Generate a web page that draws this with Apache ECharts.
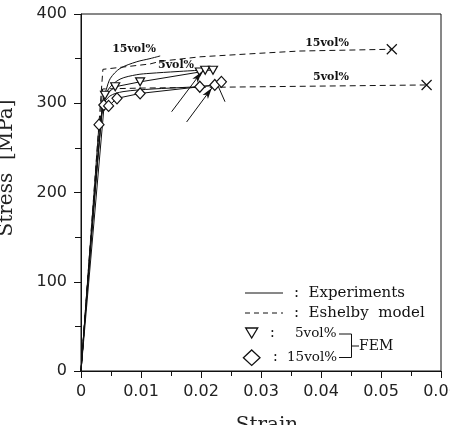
<!DOCTYPE html>
<html>
<head>
<meta charset="utf-8">
<script src="https://cdn.jsdelivr.net/npm/echarts@6/dist/echarts.min.js"></script>
<style>html,body{margin:0;padding:0;background:#fff;}#c{width:450px;height:425px;}</style>
</head>
<body>
<div id="c"></div>
<script>
// ---- data (strain, stress [MPa]) ----
const eshelby15 = [[0,0],[0.00365,338],[0.0115,344],[0.0132,347],[0.0198,352],[0.0298,356],[0.0364,358.5],[0.0518,360.5]];
const eshelby5  = [[0,0],[0.0036,316],[0.01,317],[0.03,318.5],[0.0576,320.5]];
const exp15  = [[0,0],[0.0036,300],[0.0042,315],[0.0049,328],[0.0065,339],[0.0093,346.5],[0.0115,350],[0.0132,353]];
const exp5a  = [[0,0],[0.0036,298],[0.0046,316],[0.0065,327],[0.0093,332],[0.0115,333.5],[0.016,335.5],[0.0198,337]];
const exp5b  = [[0,0],[0.0036,296],[0.0048,308],[0.007,313],[0.012,316],[0.018,318],[0.0225,320]];
const fem5   = [[0,0],[0.004,309],[0.0057,318.5],[0.00985,324],[0.0198,335],[0.0207,337],[0.022,337]];
const fem15  = [[0,0],[0.003,276],[0.0038,298],[0.0046,297],[0.006,305.5],[0.00985,311],[0.0198,318.5],[0.0223,320.5],[0.0234,324]];
const arrowLines = [[[0.0151,290.5],[0.0201,335]],[[0.0176,279],[0.0218,317]]];
const plainLines = [[[0.024,301.7],[0.0229,318.5]]];
const xTicks = [0,0.01,0.02,0.03,0.04,0.05,0.06];
const yTicks = [0,100,200,300,400];

const chart = echarts.init(document.getElementById('c'), null, {renderer:'canvas'});
const black = '#111';
function withMarkers(arr){
  return arr.map((p,i)=> i===0 ? {value:p, symbol:'none'} : {value:p});
}
const endX = 'path://M0,0L10,10M10,0L0,10';
const sol = {color:black, width:1, type:'solid'};
const dash = {color:black, width:1, type:[6,4]};
const markLineData = arrowLines.map(l=>[{coord:l[0], symbol:'none'},{coord:l[1], symbol:'arrow', symbolSize:[5,11]}])
  .concat(plainLines.map(l=>[{coord:l[0], symbol:'none'},{coord:l[1], symbol:'none'}]));
const serif = '"DejaVu Serif"';

const option = {
  animation:false,
  backgroundColor:'#fff',
  grid:{left:81, right:9, top:14, bottom:54, show:true, borderColor:black, borderWidth:1, outerBoundsMode:'none', containLabel:false},
  xAxis:{type:'value', min:xTicks[0], max:xTicks[xTicks.length-1], interval:0.01,
    axisLine:{lineStyle:{color:black}}, splitLine:{show:false},
    axisTick:{length:7, lineStyle:{color:black}},
    minorTick:{show:true, splitNumber:2, length:5, lineStyle:{color:black}},
    axisLabel:{margin:13, fontFamily:'DejaVu Sans', fontSize:16, color:'#222', hideOverlap:false,
      formatter:v=> v===0 ? '0' : v.toFixed(2)}},
  yAxis:{type:'value', min:yTicks[0], max:yTicks[yTicks.length-1], interval:100,
    axisLine:{lineStyle:{color:black}}, splitLine:{show:false},
    axisTick:{length:7, lineStyle:{color:black}},
    minorTick:{show:true, splitNumber:2, length:6, lineStyle:{color:black}},
    axisLabel:{margin:14, fontFamily:'DejaVu Sans', fontSize:16, color:'#222'}},
  series:[
    {type:'line', data:eshelby15.map((p,i)=> i===eshelby15.length-1 ? {value:p, symbol:endX, symbolSize:10, itemStyle:{color:'none', borderColor:black, borderWidth:1.2}} : {value:p, symbol:'none'}), lineStyle:dash, showAllSymbol:true, z:3},
    {type:'line', data:eshelby5.map((p,i)=> i===eshelby5.length-1 ? {value:p, symbol:endX, symbolSize:10, itemStyle:{color:'none', borderColor:black, borderWidth:1.2}} : {value:p, symbol:'none'}), lineStyle:dash, showAllSymbol:true, z:3},
    {type:'line', data:exp15, symbol:'none', smooth:0.3, lineStyle:sol},
    {type:'line', data:exp5a, symbol:'none', smooth:0.3, lineStyle:sol},
    {type:'line', data:exp5b, symbol:'none', smooth:0.3, lineStyle:sol},
    {type:'line', data:withMarkers(fem5), symbol:'triangle', symbolRotate:180, symbolSize:[9,8], showAllSymbol:true,
      itemStyle:{color:'#fff', borderColor:black, borderWidth:1.2}, lineStyle:sol, z:4},
    {type:'line', data:withMarkers(fem15), symbol:'diamond', symbolSize:[10,11], showAllSymbol:true,
      itemStyle:{color:'#fff', borderColor:black, borderWidth:1.2}, lineStyle:sol, z:4,
      markLine:{silent:true, animation:false, label:{show:false}, lineStyle:{color:black, width:1, type:'solid'}, data:markLineData}}
  ],
  graphic:[
    {type:'text', x:7, y:168, rotation:Math.PI/2, style:{text:'Stress  [MPa]', font:'20px ' + serif, fill:'#222', textAlign:'center', textVerticalAlign:'middle'}},
    {type:'text', x:267, y:416, style:{text:'Strain', font:'20px ' + serif, fill:'#222', textAlign:'center', textVerticalAlign:'top'}},
    // in-plot labels
    {type:'text', x:134, y:49, style:{text:'15vol%', font:'bold 11px ' + serif, fill:'#111', textAlign:'center', textVerticalAlign:'middle'}},
    {type:'text', x:176, y:65, style:{text:'5vol%', font:'bold 11px ' + serif, fill:'#111', textAlign:'center', textVerticalAlign:'middle'}},
    {type:'text', x:327, y:43, style:{text:'15vol%', font:'bold 11px ' + serif, fill:'#111', textAlign:'center', textVerticalAlign:'middle'}},
    {type:'text', x:331, y:77, style:{text:'5vol%', font:'bold 11px ' + serif, fill:'#111', textAlign:'center', textVerticalAlign:'middle'}},
    // legend
    {type:'line', shape:{x1:245,y1:293,x2:283,y2:293}, style:{stroke:black, lineWidth:1}},
    {type:'text', x:294, y:293, style:{text:':  Experiments', font:'15px ' + serif, fill:'#111', textVerticalAlign:'middle'}},
    {type:'line', shape:{x1:245,y1:313,x2:283,y2:313}, style:{stroke:black, lineWidth:1, lineDash:[5,4]}},
    {type:'text', x:294, y:313, style:{text:':  Eshelby  model', font:'15px ' + serif, fill:'#111', textVerticalAlign:'middle'}},
    {type:'polygon', shape:{points:[[245.7,328],[257.7,328],[251.7,338]]}, style:{fill:'#fff', stroke:black, lineWidth:1.3}},
    {type:'text', x:270, y:333, style:{text:':', font:'14px ' + serif, fill:'#111', textVerticalAlign:'middle'}},
    {type:'text', x:295, y:333, style:{text:'5vol%', font:'13.5px ' + serif, fill:'#111', textVerticalAlign:'middle'}},
    {type:'polygon', shape:{points:[[251.7,350],[260,357.7],[251.7,365.4],[243.4,357.7]]}, style:{fill:'#fff', stroke:black, lineWidth:1.3}},
    {type:'text', x:273, y:357.5, style:{text:':', font:'14px ' + serif, fill:'#111', textVerticalAlign:'middle'}},
    {type:'text', x:287, y:357.5, style:{text:'15vol%', font:'13.5px ' + serif, fill:'#111', textVerticalAlign:'middle'}},
    {type:'polyline', shape:{points:[[339,334],[351.5,334],[351.5,357.5],[339,357.5]]}, style:{stroke:black, lineWidth:1, fill:null}},
    {type:'line', shape:{x1:351.5,y1:346,x2:359,y2:346}, style:{stroke:black, lineWidth:1}},
    {type:'text', x:359, y:346, style:{text:'FEM', font:'14px ' + serif, fill:'#111', textVerticalAlign:'middle'}}
  ]
};
chart.setOption(option);
</script>
</body>
</html>
